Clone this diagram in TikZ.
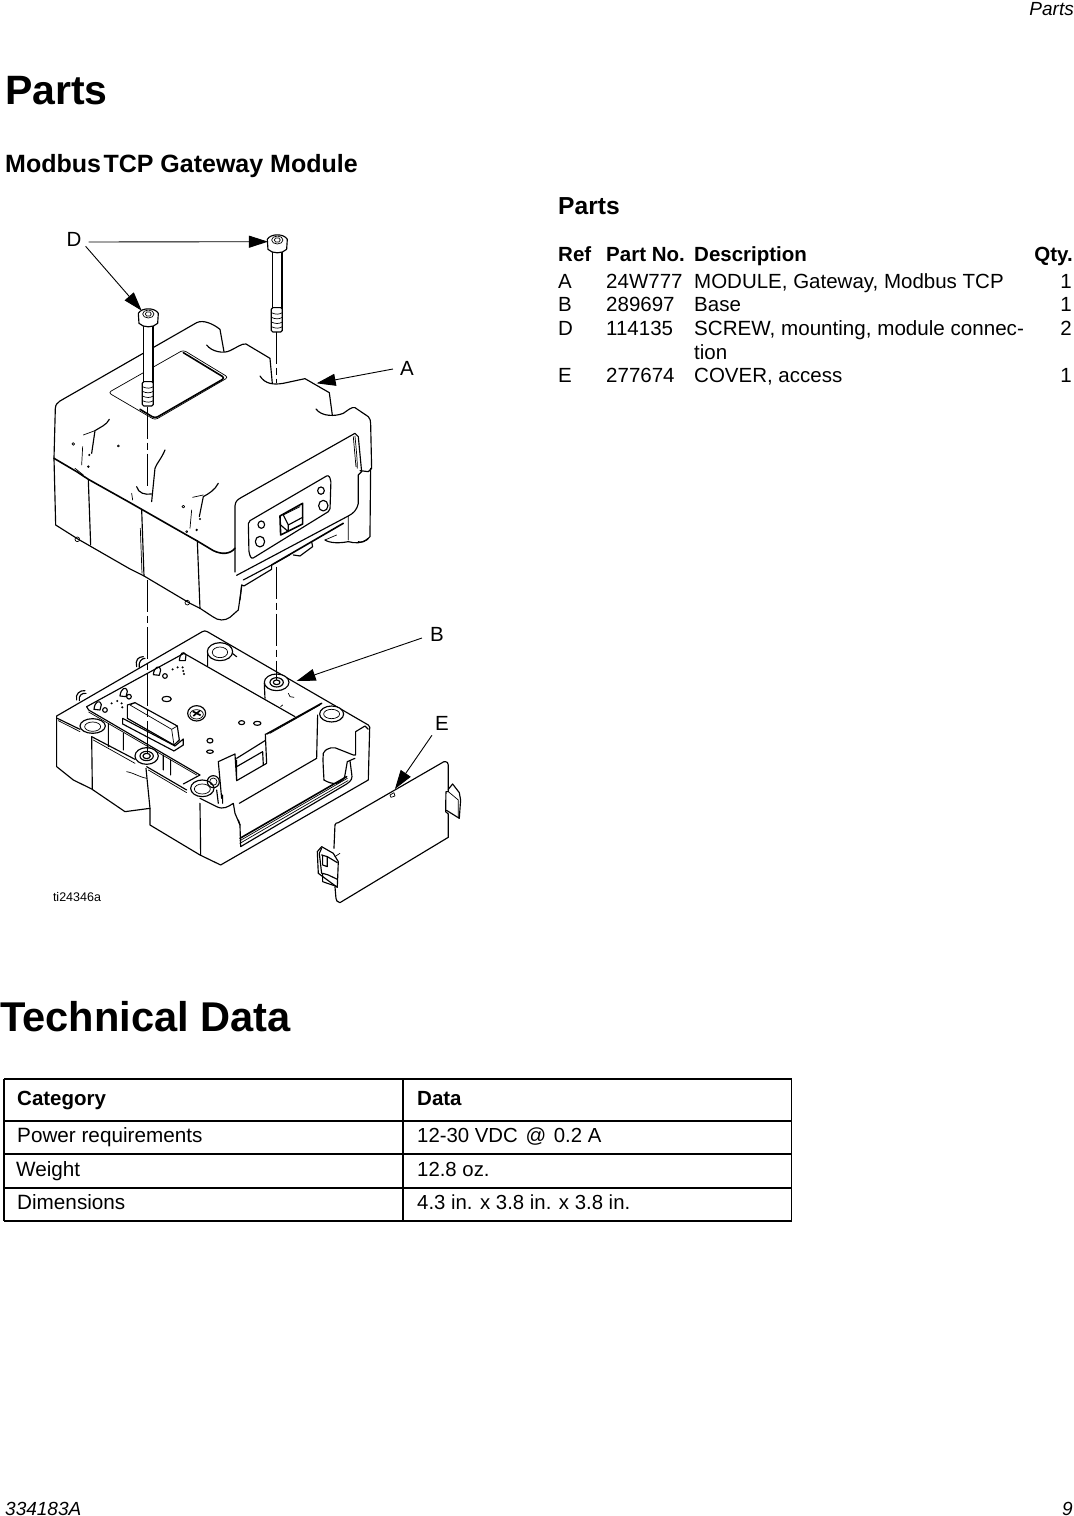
\documentclass[tikz,border=0pt]{standalone}
\usepackage{fontspec}
\setmainfont{Liberation Sans}
\usetikzlibrary{arrows.meta}

\begin{document}
\begin{tikzpicture}[
    x=1pt, y=-1pt,
    txt/.style={anchor=base west, inner sep=0pt, font=\fontsize{20.5}{24}\selectfont},
    txtr/.style={txt, anchor=base east},
    celltxt/.style={txt, font=\fontsize{20.7}{24}\selectfont},
    cellval/.style={txt, font=\fontsize{20.35}{24}\selectfont},
    head/.style={txt, font=\fontsize{20.5}{24}\selectfont\bfseries},
    headr/.style={head, anchor=base east},
    foot/.style={txt, font=\fontsize{19}{24}\selectfont\itshape},
    title/.style={txt, font=\fontsize{41}{48}\selectfont\bfseries},
    subtitle/.style={txt, font=\fontsize{25}{30}\selectfont\bfseries},
    callout/.style={inner sep=0pt, font=\fontsize{20.5}{24}\selectfont},
    outline/.style={line width=1.15pt, line join=round, line cap=round},
    fine/.style={line width=0.7pt, line join=round, line cap=round},
    heavy/.style={line width=1.6pt, line join=round, line cap=round},
    centerline/.style={line width=1.6pt, dash pattern=on 32pt off 4pt on 7pt off 4pt},
    arrow/.style={line width=0.9pt, -{Triangle[length=19pt,width=12pt]}},
    tablerule/.style={line width=2pt},
    tablecol/.style={line width=1.4pt},
    screw/.pic={
        \draw[outline, fill=white] (-15,20) rectangle (14,200);
        \draw[outline, fill=white, rounded corners=1.5pt] (-18,193) rectangle (15,266);
        \draw[fine] (-18,208) .. controls (-5,214) and (5,214) .. (15,208)
                    (-18,222) .. controls (-5,228) and (5,228) .. (15,222)
                    (-18,236) .. controls (-5,242) and (5,242) .. (15,236)
                    (-18,250) .. controls (-5,256) and (5,256) .. (15,250);
        \draw[outline, fill=white] (-30,-12) -- (-28,18) .. controls (-15,32) and (15,32) .. (28,18) -- (30,-12) .. controls (20,-30) and (-20,-30) .. cycle;
        \draw[fine] (0,-10) ellipse (17pt and 12pt);
        \draw[fine] (-9,-10) -- (-5,-16) -- (5,-16) -- (9,-10) -- (5,-4) -- (-5,-4) -- cycle;
    }
]
    \useasboundingbox (0,0) rectangle (1074,1516);

    % Page texts
    \node[foot, anchor=base east] (runhead) at (1074,15) {Parts};
    \node[title] (partstitle) at (5,104) {Parts};
    \node[subtitle] (moduletitle) at (5,172) {Modbus\hspace{0.1em}TCP Gateway Module};
    \node[title, font=\fontsize{41.6}{48}\selectfont\bfseries] (techtitle) at (0,1031) {Technical Data};
    \node[foot] (docnum) at (5,1515) {334183A};
    \node[foot, anchor=base east] (pagenum) at (1073,1515) {9};

    % Parts list
    \node[subtitle, font=\fontsize{24.6}{30}\selectfont\bfseries] (liststitle) at (558,214) {Parts};
    \node[head] (hdref) at (558,261) {Ref};
    \node[head] (hdpart) at (606,261) {Part No.};
    \node[head] (hddesc) at (694,261) {Description};
    \node[headr] (hdqty) at (1073,261) {Qty.};
    \node[txt] (refa) at (558,288) {A};
    \node[txt] (parta) at (606,288) {24W777};
    \node[txt] (desca) at (694,288) {MODULE, Gateway, Modbus TCP};
    \node[txtr] (qtya) at (1072,288) {1};
    \node[txt] (refb) at (558,311) {B};
    \node[txt] (partb) at (606,311) {289697};
    \node[txt] (descb) at (694,311) {Base};
    \node[txtr] (qtyb) at (1072,311) {1};
    \node[txt] (refd) at (558,335) {D};
    \node[txt] (partd) at (606,335) {114135};
    \node[txt, font=\fontsize{20.6}{24}\selectfont] (descd) at (694,335) {SCREW, mounting, module connec-};
    \node[txtr] (qtyd) at (1072,335) {2};
    \node[txt] (descd2) at (694,359) {tion};
    \node[txt] (refe) at (558,382) {E};
    \node[txt] (parte) at (606,382) {277674};
    \node[txt] (desce) at (694,382) {COVER, access};
    \node[txtr] (qtye) at (1072,382) {1};

    % Technical data table
    \draw[tablerule] (4,1079) -- (792,1079) (4,1121) -- (792,1121) (4,1154) -- (792,1154) (4,1221) -- (792,1221);
    \draw[tablecol] (4,1188) -- (792,1188);
    \draw[tablecol] (4,1079) -- (4,1221) (403,1079) -- (403,1221) (791.5,1079) -- (791.5,1221);
    \node[head] (hdcat) at (17,1105) {Category};
    \node[head] (hddata) at (417,1105) {Data};
    \node[celltxt] (power) at (17,1142) {Power requirements};
    \node[cellval] (powerval) at (417,1142) {12-30 VDC\hspace{0.1em} @\hspace{0.1em} 0.2 A};
    \node[celltxt] (weight) at (16,1176) {Weight};
    \node[cellval] (weightval) at (417,1176) {12.8 oz.};
    \node[celltxt] (dims) at (17,1209) {Dimensions};
    \node[cellval] (dimsval) at (417,1209) {4.3 in. x 3.8 in. x 3.8 in.};

    % Upper module
    \begin{scope}[shift={(40,220)}, scale=0.3333]
        \draw[outline] (42,715) -- (46,565) .. controls (47,552) and (52,550) .. (60,543) -- (470,308)
            .. controls (490,298) and (520,312) .. (540,328) -- (552,395);
        \draw[outline] (500,375) .. controls (515,395) and (550,402) .. (570,392)
            .. controls (590,383) and (605,370) .. (618,372) -- (690,415) -- (697,490);
        \draw[outline] (660,468) .. controls (675,492) and (700,495) .. (730,490) -- (795,476) -- (868,518) -- (877,585);
        \draw[outline] (828,567) .. controls (845,590) and (885,590) .. (910,580)
            .. controls (925,570) and (935,560) .. (945,563) -- (985,590) .. controls (990,595) and (992,602) .. (992,610) -- (995,745)
            -- (985,755) -- (960,752);
        % window on the top
        \draw[fine, rounded corners=3pt] (205,518) -- (430,390) -- (565,472) -- (345,600) -- cycle;
        \draw[heavy, rounded corners=3pt] (430,398) -- (555,474) -- (345,595) -- (300,568);
        % seam of the cover
        \draw[heavy] (42,715) -- (110,755) -- (145,778) -- (270,848) -- (305,868) -- (440,945) -- (470,962) -- (520,992)
            .. controls (545,1004) and (570,1003) .. (585,985);
        % side walls
        \draw[outline] (42,715) -- (47,915) -- (115,958) -- (150,978) -- (270,1047) -- (312,1068) -- (450,1150) -- (480,1165);
        \draw[outline] (145,780) -- (152,975) (305,868) -- (312,1068) (472,962) -- (480,1165);
        \draw[fine] (301,925) -- (306,1060);
        \draw[fine] (112,958) circle (7pt) (442,1148) circle (7pt);
        % recess
        \draw[outline] (585,1056) -- (585,858) .. controls (586,842) and (595,838) .. (605,832) -- (945,640) -- (955,650) -- (965,755) -- (955,765) -- (955,850) .. controls (950,872) and (940,880) .. (925,888) -- (590,1066);
        \draw[fine] (945,648) .. controls (950,700) and (952,720) .. (952,745) (940,650) -- (948,740);
        \draw[outline] (992,745) -- (990,950) .. controls (980,965) and (960,970) .. (955,965);
        % lip and slot
        \draw[heavy] (695,1035) -- (910,910);
        \draw[outline] (610,1080) -- (695,1035) -- (695,1048) -- (612,1098) -- (605,1095) -- (600,1140);
        \draw[outline] (760,1005) -- (780,1008) -- (818,980) -- (815,965);
        \draw[fine] (855,960) -- (890,945) (705,1030) -- (750,1005) (925,888) -- (925,960);
        \draw[outline] (855,960) .. controls (870,970) and (900,970) .. (925,965) .. controls (945,970) and (965,972) .. (985,955);
        \draw[outline] (480,1165) -- (518,1190) .. controls (535,1203) and (555,1203) .. (570,1192) -- (595,1170) -- (605,1100);
        % plate with the port
        \draw[outline, rounded corners=2pt] (625,905) -- (865,765) -- (873,780) -- (870,872) -- (635,1017) -- (627,1000) -- cycle;
        \draw[heavy] (720,888) -- (788,850) -- (788,912) -- (722,945) -- cycle;
        \draw[outline] (730,885) -- (745,915) -- (788,892) (745,915) -- (745,935) (722,915) -- (745,935);
        \draw[fine] (730,885) -- (780,860);
        \draw[outline] (664,914) ellipse (10pt and 11pt) (660,965) ellipse (14pt and 16pt) (843,812) ellipse (10pt and 11pt) (850,857) ellipse (14pt and 16pt);
        % details of the cover
        \draw[outline] (208,598) .. controls (200,615) and (180,622) .. (165,632) -- (155,700);
        \draw[fine] (165,632) -- (130,645) (128,680) -- (125,735) (105,745) -- (130,765);
        \draw[outline] (375,690) .. controls (365,715) and (350,730) .. (345,745) -- (335,845);
        \draw[outline] (290,800) .. controls (295,820) and (315,825) .. (335,822);
        \draw[fine] (275,820) -- (278,840);
        \draw[outline] (535,790) .. controls (525,810) and (505,822) .. (490,830) -- (478,890);
        \draw[fine] (490,825) -- (458,832) (455,870) -- (450,925);
        \fill (145,740) circle (4pt) (148,705) circle (3.5pt) (470,930) circle (4pt) (480,897) circle (3.5pt);
        \draw[fine] (100,672) circle (4pt) (235,678) circle (3pt) (430,860) circle (4pt) (440,935) circle (3pt);
        % coordinates of the screws and of the center lines
        \coordinate (tipscrewl) at (305,272);
        \coordinate (tipscrewr) at (684,65);
        \coordinate (tipcover) at (830,490);
        \coordinate (linelefttop) at (323,560);
        \coordinate (lineleftend) at (323,800);
        \coordinate (linelefttwo) at (323,1080);
        \coordinate (linerighttop) at (710,335);
        \coordinate (linerightend) at (710,490);
        \coordinate (linerighttwo) at (710,1040);
        \pic[transform shape] at (325,292) {screw};
        \pic[transform shape] at (712,70) {screw};
    \end{scope}

    % Base and access cover
    \begin{scope}[shift={(40,590)}, scale=0.3333]
        % outer shell
        \draw[outline] (50,378) -- (487,125) .. controls (492,122) and (497,122) .. (502,125) -- (985,405) .. controls (990,410) and (990,412) .. (989,420) -- (985,570) -- (542,825) -- (480,795) -- (330,705) -- (330,655) -- (255,665) -- (155,597) -- (100,570) -- (50,530) -- cycle;
        \draw[outline] (155,440) -- (157,597) (318,535) -- (330,655) (480,640) -- (482,795);
        \draw[fine] (260,545) .. controls (285,550) and (295,560) .. (320,565);
        % front rim
        \draw[outline] (52,385) -- (120,418) (155,440) -- (285,508) (320,530) -- (440,600) (480,625) -- (530,650) .. controls (550,660) and (565,650) .. (580,640) -- (585,670) -- (600,705) -- (602,770) -- (920,582) .. controls (935,572) and (938,565) .. (935,550) -- (930,512);
        \draw[fine] (55,392) -- (120,425) (160,450) -- (285,520) (325,540) -- (440,608);
        \draw[heavy] (600,745) -- (920,560);
        \draw[fine] (600,752) -- (922,565) (600,760) -- (924,572);
        \draw[outline] (600,705) -- (595,690);
        \draw[outline] (205,400) -- (205,470) (250,430) -- (250,480) (370,495) -- (370,540) (392,510) -- (392,555) (530,600) -- (535,640) (548,615) -- (548,640);
        % right column
        \draw[outline] (833,375) -- (830,505);
        \draw[outline] (598,640) -- (830,505);
        \draw[outline] (852,570) .. controls (850,530) and (848,510) .. (850,490) .. controls (860,470) and (885,470) .. (897,478) -- (940,495) -- (947,495) -- (947,425) -- (975,408) -- (985,418);
        \draw[outline] (852,570) .. controls (865,578) and (880,582) .. (890,580) .. controls (905,575) and (915,565) .. (915,555) -- (922,515) -- (945,505);
        \draw[outline, fill=white] (875,372) ellipse (36pt and 24pt);
        \draw[fine] (875,372) ellipse (24pt and 14pt);
        % board
        \draw[outline] (140,350) -- (432,190) -- (765,380);
        \draw[outline] (140,350) -- (146,360) -- (480,555) -- (430,582);
        \draw[fine] (146,366) -- (470,555);
        % inner wall
        \draw[heavy] (680,432) -- (845,340);
        \draw[fine] (690,430) -- (840,345);
        \draw[outline] (676,432) -- (680,520) -- (590,572) -- (585,492) -- (535,515) -- (545,625);
        \draw[outline] (590,505) -- (675,452) (590,530) -- (668,485) (590,572) -- (590,510) (668,485) -- (670,525);
        % pillars
        \draw[outline] (503,185) -- (503,228) (577,190) -- (590,200);
        \draw[outline, fill=white] (540,185) ellipse (38pt and 27pt);
        \draw[fine] (540,187) ellipse (23pt and 16pt);
        \draw[outline] (673,280) -- (675,325);
        \draw[outline, fill=white] (710,277) ellipse (37pt and 25pt);
        \draw[outline] (710,277) ellipse (20pt and 14pt) (710,277) ellipse (10pt and 7pt);
        \draw[fine] (745,310) -- (750,320) -- (762,322) (722,350) -- (728,345);
        \draw[outline, fill=white] (158,408) ellipse (38pt and 22pt);
        \draw[fine] (158,410) ellipse (24pt and 14pt);
        \draw[outline, fill=white] (320,498) ellipse (35pt and 25pt);
        \draw[outline] (320,498) ellipse (20pt and 14pt) (320,498) ellipse (11pt and 8pt);
        \draw[outline, fill=white] (487,595) ellipse (35pt and 25pt);
        \draw[fine] (487,597) ellipse (24pt and 15pt);
        % back knobs
        \draw[outline] (290,230) .. controls (285,210) and (295,200) .. (310,200) (298,232) .. controls (295,215) and (305,205) .. (315,205);
        \draw[outline] (110,330) .. controls (105,312) and (120,300) .. (135,302) (118,332) .. controls (115,318) and (125,308) .. (138,310);
        % connector on the board
        \draw[outline, fill=white] (248,385) -- (248,402) -- (402,483) -- (430,465) -- (430,447) -- (405,468) -- cycle;
        \draw[outline, fill=white] (262,345) -- (285,338) -- (412,408) -- (418,450) -- (402,465) -- (262,385) -- cycle;
        \draw[fine] (285,338) -- (270,345) -- (395,418) -- (412,408) (395,418) -- (402,465);
        % screw and holes on the board
        \draw[outline] (470,370) ellipse (27pt and 23pt);
        \draw[fine] (470,373) ellipse (20pt and 14pt);
        \draw[line width=1.6pt] (458,364) -- (482,376) (480,362) -- (460,378);
        \draw[outline] (380,327) ellipse (14pt and 8pt) (605,398) ellipse (9pt and 6pt) (652,400) ellipse (11pt and 6pt) (510,452) ellipse (9pt and 7pt) (510,485) ellipse (10pt and 5pt);
        % pegs on the board
        \draw[outline] (418,212) .. controls (420,190) and (430,180) .. (438,195) -- (436,212) -- cycle;
        \draw[outline] (340,254) .. controls (342,232) and (358,222) .. (362,240) -- (358,256) -- cycle;
        \draw[outline] (240,318) .. controls (242,296) and (258,286) .. (262,304) -- (258,320) -- cycle;
        \draw[outline] (162,358) .. controls (164,336) and (178,326) .. (184,344) -- (180,360) -- cycle;
        \draw[outline] (375,258) circle (7pt) (267,320) circle (7pt) (195,360) circle (7pt);
        \fill (398,238) circle (3.5pt) (413,232) circle (3.5pt) (428,232) circle (3.5pt) (430,243) circle (3.5pt) (432,252) circle (3.5pt) (215,340) circle (3.5pt) (232,333) circle (3.5pt) (245,340) circle (3.5pt) (247,352) circle (3.5pt);
        % teeth of the washer
        \draw[outline] (520,575) circle (18pt);
        \draw[fine] (520,575) circle (11pt);
        % access cover
        \draw[outline] (885,705) .. controls (886,700) and (890,698) .. (895,698) -- (1212,515) .. controls (1222,515) and (1225,518) .. (1225,525) -- (1225,605) -- (1218,605) -- (1217,665) -- (1225,672) -- (1225,742) -- (900,938) .. controls (892,936) and (888,932) .. (888,925) -- (885,890);
        \draw[outline] (885,705) -- (882,775);
        \draw[outline] (1225,598) -- (1238,582) -- (1258,608) -- (1262,630) -- (1258,685) -- (1218,660);
        \draw[fine] (1225,605) -- (1255,630) -- (1255,680);
        \draw[outline] (832,785) -- (845,770) -- (880,790) -- (895,815) -- (892,892) -- (835,850) -- cycle;
        \draw[outline] (845,775) -- (838,790) -- (845,850);
        \draw[outline] (845,795) -- (862,800) -- (892,818) (848,795) -- (848,825) -- (862,830) -- (862,800);
        \draw[outline] (848,850) -- (848,875) -- (862,880) -- (892,890) (848,850) -- (865,855) -- (892,868);
        \draw[fine] (885,800) -- (900,790);
        \draw[fine] (1050,615) -- (1062,608) -- (1065,618) -- (1053,622) -- cycle;
        % coordinates of the arrows and of the center lines
        \coordinate (tipbase) at (770,273);
        \coordinate (tipaccess) at (1065,597);
        \coordinate (lineleftbot) at (323,490);
        \coordinate (linerightbot) at (710,270);
    \end{scope}

    % Center lines
    \draw[centerline] (linelefttop) -- (lineleftend);
    \draw[centerline] (linelefttwo) -- (lineleftbot);
    \draw[centerline] (linerighttop) -- (linerightend);
    \draw[centerline] (linerighttwo) -- (linerightbot);

    % Callouts
    \node[callout] (lblD) at (74,239) {D};
    \node[callout] (lblA) at (407,368) {A};
    \node[callout] (lblB) at (437,634) {B};
    \node[callout] (lblE) at (442,723) {E};
    \node[inner sep=0pt, font=\fontsize{12.5}{15}\selectfont] (tiref) at (77,897) {ti24346a};
    \draw[arrow] (lblD.east) ++(7,3) -- (tipscrewr);
    \draw[arrow] (lblD.south east) ++(4,0) -- (tipscrewl);
    \draw[arrow] (lblA.west) ++(-7,1) -- (tipcover);
    \draw[arrow] (lblB.west) ++(-8,4) -- (tipbase);
    \draw[arrow] (lblE.south west) ++(-3,5) -- (tipaccess);
\end{tikzpicture}
\end{document}
